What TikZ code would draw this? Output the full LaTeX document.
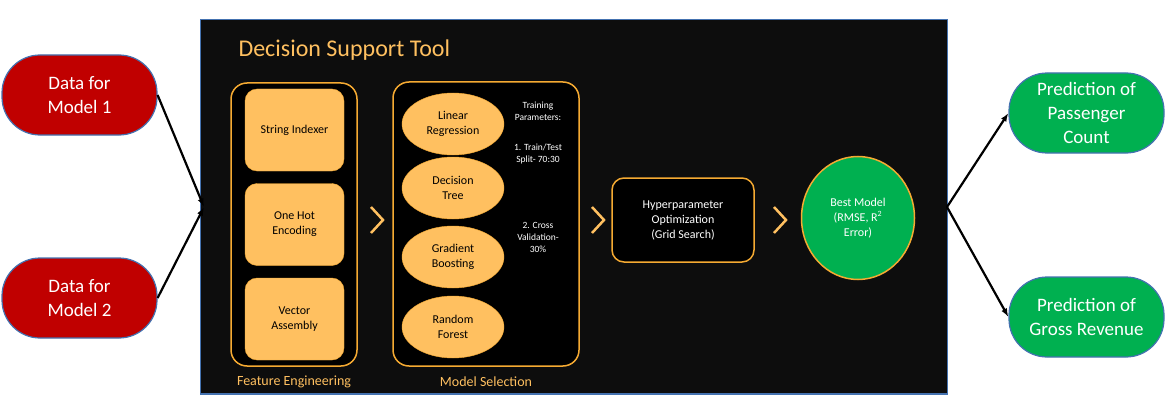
\documentclass[tikz,border=0pt]{standalone}
\usepackage{fontspec}
\setmainfont{Carlito}
\usetikzlibrary{arrows.meta,positioning,shapes.geometric}
\definecolor{panel}{RGB}{13,13,13}
\definecolor{edge}{RGB}{68,114,176}
\definecolor{amber}{RGB}{255,192,96}
\definecolor{amberline}{RGB}{245,170,50}
\definecolor{datared}{RGB}{192,0,0}
\definecolor{okgreen}{RGB}{0,176,80}

\begin{document}
\begin{tikzpicture}[x=1pt,y=-1pt,
      every node/.style={font=\normalsize,align=center},
      term/.style={draw=edge,line width=1.2pt,rounded corners=38pt,
        minimum width=155pt,minimum height=80pt,text=white,
        font=\fontsize{19}{24}\selectfont},
      groupbox/.style={draw=amberline,line width=1.5pt,rounded corners=16pt,
        fill=black},
      stepbox/.style={draw=amberline,fill=amber,rounded corners=12pt,
        minimum width=99pt,minimum height=82pt,
        font=\fontsize{12}{15}\selectfont},
      algo/.style={ellipse,draw=amberline,fill=amber,inner sep=0pt,
        minimum width=102pt,minimum height=62pt,
        font=\fontsize{12}{15}\selectfont},
      note/.style={text=white,font=\fontsize{9.5}{12}\selectfont},
      tag/.style={text=amber,font=\fontsize{14}{16}\selectfont},
      chev/.style={amber,line width=2.5pt},
      flow/.style={-{Latex[length=3mm,width=2.2mm]},line width=2.2pt,black}
    ]
      \useasboundingbox (0,0) rectangle (1176,412);

      % tool panel
      \draw[fill=panel,draw=edge,line width=1.5pt]
        (200.5,19.5) rectangle (947.5,394);
      \node[text=amber,font=\fontsize{24}{28}\selectfont,anchor=west]
        (title) at (235,50) {Decision Support Tool};

      % feature engineering
      \node[groupbox,minimum width=126pt,minimum height=283pt] (fe) at (294,224.5) {};
      \node[stepbox] (si) at (294.5,130) {String Indexer};
      \node[stepbox] (ohe) at (294.5,224.5) {One Hot\\Encoding};
      \node[stepbox] (va) at (294.5,319) {Vector\\Assembly};
      \node[tag] (fel) at (294,382) {Feature Engineering};

      % model selection
      \node[groupbox,minimum width=186pt,minimum height=284pt] (ms) at (486,224) {};
      \node[algo] (lr) at (453,124) {Linear\\Regression};
      \node[algo] (dt) at (453,188) {Decision\\Tree};
      \node[algo] (gb) at (453,257) {Gradient\\Boosting};
      \node[algo] (rf) at (453,327) {Random\\Forest};
      \node[note] (tp) at (538,111) {Training\\Parameters:};
      \node[note] (split) at (538,154) {1. Train/Test\\Split- 70:30};
      \node[note] (cv) at (538,237) {2. Cross\\Validation-\\30\%};
      \node[tag] (msl) at (486,382) {Model Selection};

      % tuning and result
      \node[groupbox,rounded corners=12pt,minimum width=142pt,minimum height=84pt,
        text=white,font=\fontsize{12}{15}\selectfont]
        (hp) at (683,220) {Hyperparameter\\Optimization\\(Grid Search)};
      \node[ellipse,draw=amberline,line width=1.5pt,fill=okgreen,text=white,
        inner sep=0pt,minimum width=113pt,minimum height=123pt,
        font=\fontsize{12}{15}\selectfont]
        (best) at (858,218) {Best Model\\(RMSE, R\textsuperscript{2}\\Error)};

      \foreach \cx in {377,598,780}
        \draw[chev] (\cx-6,207) -- (\cx+6,220) -- (\cx-6,233);

      % inputs and outputs
      \node[term,fill=datared] (d1) at (79.5,95) {Data for\\Model 1};
      \node[term,fill=datared] (d2) at (79.5,298) {Data for\\Model 2};
      \node[term,fill=okgreen] (p1) at (1086.5,113) {Prediction of\\Passenger\\Count};
      \node[term,fill=okgreen] (p2) at (1086.5,317) {Prediction of\\Gross Revenue};

      \coordinate (join) at (204,207);
      \coordinate (fork) at (947,207);
      \draw[flow] (d1.east) -- (join);
      \draw[flow] (d2.east) -- (join);
      \draw[flow] (fork) -- (p1.west);
      \draw[flow] (fork) -- (p2.west);
    \end{tikzpicture}
\end{document}
